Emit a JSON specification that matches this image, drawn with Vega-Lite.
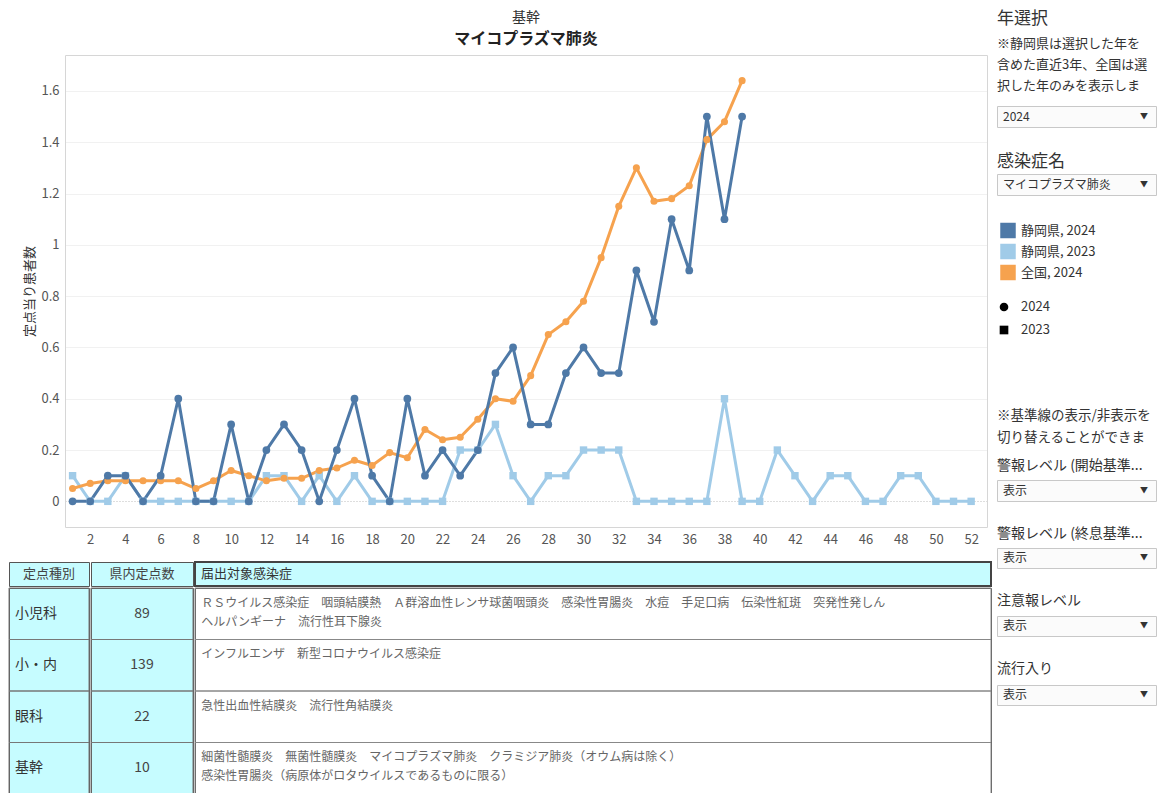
{
  "$schema": "https://vega.github.io/schema/vega-lite/v6.json",
  "padding": {"left": 8, "top": 5, "right": 0, "bottom": 0},
  "background": "white",
  "config": {
    "font": "Noto Sans CJK JP",
    "view": {"stroke": null},
    "title": {"fontWeight": "normal", "color": "#333", "subtitleColor": "#333"},
    "text": {"font": "Noto Sans CJK JP"},
    "axisX": {"labelOverlap": false}
  },
  "datasets": {
    "series": [
      {"week": 1, "series": "静岡県, 2023", "year": "2023", "value": 0.1},
      {"week": 2, "series": "静岡県, 2023", "year": "2023", "value": 0},
      {"week": 3, "series": "静岡県, 2023", "year": "2023", "value": 0},
      {"week": 4, "series": "静岡県, 2023", "year": "2023", "value": 0.1},
      {"week": 5, "series": "静岡県, 2023", "year": "2023", "value": 0},
      {"week": 6, "series": "静岡県, 2023", "year": "2023", "value": 0},
      {"week": 7, "series": "静岡県, 2023", "year": "2023", "value": 0},
      {"week": 8, "series": "静岡県, 2023", "year": "2023", "value": 0},
      {"week": 9, "series": "静岡県, 2023", "year": "2023", "value": 0},
      {"week": 10, "series": "静岡県, 2023", "year": "2023", "value": 0},
      {"week": 11, "series": "静岡県, 2023", "year": "2023", "value": 0},
      {"week": 12, "series": "静岡県, 2023", "year": "2023", "value": 0.1},
      {"week": 13, "series": "静岡県, 2023", "year": "2023", "value": 0.1},
      {"week": 14, "series": "静岡県, 2023", "year": "2023", "value": 0},
      {"week": 15, "series": "静岡県, 2023", "year": "2023", "value": 0.1},
      {"week": 16, "series": "静岡県, 2023", "year": "2023", "value": 0},
      {"week": 17, "series": "静岡県, 2023", "year": "2023", "value": 0.1},
      {"week": 18, "series": "静岡県, 2023", "year": "2023", "value": 0},
      {"week": 19, "series": "静岡県, 2023", "year": "2023", "value": 0},
      {"week": 20, "series": "静岡県, 2023", "year": "2023", "value": 0},
      {"week": 21, "series": "静岡県, 2023", "year": "2023", "value": 0},
      {"week": 22, "series": "静岡県, 2023", "year": "2023", "value": 0},
      {"week": 23, "series": "静岡県, 2023", "year": "2023", "value": 0.2},
      {"week": 24, "series": "静岡県, 2023", "year": "2023", "value": 0.2},
      {"week": 25, "series": "静岡県, 2023", "year": "2023", "value": 0.3},
      {"week": 26, "series": "静岡県, 2023", "year": "2023", "value": 0.1},
      {"week": 27, "series": "静岡県, 2023", "year": "2023", "value": 0},
      {"week": 28, "series": "静岡県, 2023", "year": "2023", "value": 0.1},
      {"week": 29, "series": "静岡県, 2023", "year": "2023", "value": 0.1},
      {"week": 30, "series": "静岡県, 2023", "year": "2023", "value": 0.2},
      {"week": 31, "series": "静岡県, 2023", "year": "2023", "value": 0.2},
      {"week": 32, "series": "静岡県, 2023", "year": "2023", "value": 0.2},
      {"week": 33, "series": "静岡県, 2023", "year": "2023", "value": 0},
      {"week": 34, "series": "静岡県, 2023", "year": "2023", "value": 0},
      {"week": 35, "series": "静岡県, 2023", "year": "2023", "value": 0},
      {"week": 36, "series": "静岡県, 2023", "year": "2023", "value": 0},
      {"week": 37, "series": "静岡県, 2023", "year": "2023", "value": 0},
      {"week": 38, "series": "静岡県, 2023", "year": "2023", "value": 0.4},
      {"week": 39, "series": "静岡県, 2023", "year": "2023", "value": 0},
      {"week": 40, "series": "静岡県, 2023", "year": "2023", "value": 0},
      {"week": 41, "series": "静岡県, 2023", "year": "2023", "value": 0.2},
      {"week": 42, "series": "静岡県, 2023", "year": "2023", "value": 0.1},
      {"week": 43, "series": "静岡県, 2023", "year": "2023", "value": 0},
      {"week": 44, "series": "静岡県, 2023", "year": "2023", "value": 0.1},
      {"week": 45, "series": "静岡県, 2023", "year": "2023", "value": 0.1},
      {"week": 46, "series": "静岡県, 2023", "year": "2023", "value": 0},
      {"week": 47, "series": "静岡県, 2023", "year": "2023", "value": 0},
      {"week": 48, "series": "静岡県, 2023", "year": "2023", "value": 0.1},
      {"week": 49, "series": "静岡県, 2023", "year": "2023", "value": 0.1},
      {"week": 50, "series": "静岡県, 2023", "year": "2023", "value": 0},
      {"week": 51, "series": "静岡県, 2023", "year": "2023", "value": 0},
      {"week": 52, "series": "静岡県, 2023", "year": "2023", "value": 0},
      {"week": 1, "series": "全国, 2024", "year": "2024", "value": 0.05},
      {"week": 2, "series": "全国, 2024", "year": "2024", "value": 0.07},
      {"week": 3, "series": "全国, 2024", "year": "2024", "value": 0.08},
      {"week": 4, "series": "全国, 2024", "year": "2024", "value": 0.08},
      {"week": 5, "series": "全国, 2024", "year": "2024", "value": 0.08},
      {"week": 6, "series": "全国, 2024", "year": "2024", "value": 0.08},
      {"week": 7, "series": "全国, 2024", "year": "2024", "value": 0.08},
      {"week": 8, "series": "全国, 2024", "year": "2024", "value": 0.05},
      {"week": 9, "series": "全国, 2024", "year": "2024", "value": 0.08},
      {"week": 10, "series": "全国, 2024", "year": "2024", "value": 0.12},
      {"week": 11, "series": "全国, 2024", "year": "2024", "value": 0.1},
      {"week": 12, "series": "全国, 2024", "year": "2024", "value": 0.08},
      {"week": 13, "series": "全国, 2024", "year": "2024", "value": 0.09},
      {"week": 14, "series": "全国, 2024", "year": "2024", "value": 0.09},
      {"week": 15, "series": "全国, 2024", "year": "2024", "value": 0.12},
      {"week": 16, "series": "全国, 2024", "year": "2024", "value": 0.13},
      {"week": 17, "series": "全国, 2024", "year": "2024", "value": 0.16},
      {"week": 18, "series": "全国, 2024", "year": "2024", "value": 0.14},
      {"week": 19, "series": "全国, 2024", "year": "2024", "value": 0.19},
      {"week": 20, "series": "全国, 2024", "year": "2024", "value": 0.17},
      {"week": 21, "series": "全国, 2024", "year": "2024", "value": 0.28},
      {"week": 22, "series": "全国, 2024", "year": "2024", "value": 0.24},
      {"week": 23, "series": "全国, 2024", "year": "2024", "value": 0.25},
      {"week": 24, "series": "全国, 2024", "year": "2024", "value": 0.32},
      {"week": 25, "series": "全国, 2024", "year": "2024", "value": 0.4},
      {"week": 26, "series": "全国, 2024", "year": "2024", "value": 0.39},
      {"week": 27, "series": "全国, 2024", "year": "2024", "value": 0.49},
      {"week": 28, "series": "全国, 2024", "year": "2024", "value": 0.65},
      {"week": 29, "series": "全国, 2024", "year": "2024", "value": 0.7},
      {"week": 30, "series": "全国, 2024", "year": "2024", "value": 0.78},
      {"week": 31, "series": "全国, 2024", "year": "2024", "value": 0.95},
      {"week": 32, "series": "全国, 2024", "year": "2024", "value": 1.15},
      {"week": 33, "series": "全国, 2024", "year": "2024", "value": 1.3},
      {"week": 34, "series": "全国, 2024", "year": "2024", "value": 1.17},
      {"week": 35, "series": "全国, 2024", "year": "2024", "value": 1.18},
      {"week": 36, "series": "全国, 2024", "year": "2024", "value": 1.23},
      {"week": 37, "series": "全国, 2024", "year": "2024", "value": 1.41},
      {"week": 38, "series": "全国, 2024", "year": "2024", "value": 1.48},
      {"week": 39, "series": "全国, 2024", "year": "2024", "value": 1.64},
      {"week": 1, "series": "静岡県, 2024", "year": "2024", "value": 0},
      {"week": 2, "series": "静岡県, 2024", "year": "2024", "value": 0},
      {"week": 3, "series": "静岡県, 2024", "year": "2024", "value": 0.1},
      {"week": 4, "series": "静岡県, 2024", "year": "2024", "value": 0.1},
      {"week": 5, "series": "静岡県, 2024", "year": "2024", "value": 0},
      {"week": 6, "series": "静岡県, 2024", "year": "2024", "value": 0.1},
      {"week": 7, "series": "静岡県, 2024", "year": "2024", "value": 0.4},
      {"week": 8, "series": "静岡県, 2024", "year": "2024", "value": 0},
      {"week": 9, "series": "静岡県, 2024", "year": "2024", "value": 0},
      {"week": 10, "series": "静岡県, 2024", "year": "2024", "value": 0.3},
      {"week": 11, "series": "静岡県, 2024", "year": "2024", "value": 0},
      {"week": 12, "series": "静岡県, 2024", "year": "2024", "value": 0.2},
      {"week": 13, "series": "静岡県, 2024", "year": "2024", "value": 0.3},
      {"week": 14, "series": "静岡県, 2024", "year": "2024", "value": 0.2},
      {"week": 15, "series": "静岡県, 2024", "year": "2024", "value": 0},
      {"week": 16, "series": "静岡県, 2024", "year": "2024", "value": 0.2},
      {"week": 17, "series": "静岡県, 2024", "year": "2024", "value": 0.4},
      {"week": 18, "series": "静岡県, 2024", "year": "2024", "value": 0.1},
      {"week": 19, "series": "静岡県, 2024", "year": "2024", "value": 0},
      {"week": 20, "series": "静岡県, 2024", "year": "2024", "value": 0.4},
      {"week": 21, "series": "静岡県, 2024", "year": "2024", "value": 0.1},
      {"week": 22, "series": "静岡県, 2024", "year": "2024", "value": 0.2},
      {"week": 23, "series": "静岡県, 2024", "year": "2024", "value": 0.1},
      {"week": 24, "series": "静岡県, 2024", "year": "2024", "value": 0.2},
      {"week": 25, "series": "静岡県, 2024", "year": "2024", "value": 0.5},
      {"week": 26, "series": "静岡県, 2024", "year": "2024", "value": 0.6},
      {"week": 27, "series": "静岡県, 2024", "year": "2024", "value": 0.3},
      {"week": 28, "series": "静岡県, 2024", "year": "2024", "value": 0.3},
      {"week": 29, "series": "静岡県, 2024", "year": "2024", "value": 0.5},
      {"week": 30, "series": "静岡県, 2024", "year": "2024", "value": 0.6},
      {"week": 31, "series": "静岡県, 2024", "year": "2024", "value": 0.5},
      {"week": 32, "series": "静岡県, 2024", "year": "2024", "value": 0.5},
      {"week": 33, "series": "静岡県, 2024", "year": "2024", "value": 0.9},
      {"week": 34, "series": "静岡県, 2024", "year": "2024", "value": 0.7},
      {"week": 35, "series": "静岡県, 2024", "year": "2024", "value": 1.1},
      {"week": 36, "series": "静岡県, 2024", "year": "2024", "value": 0.9},
      {"week": 37, "series": "静岡県, 2024", "year": "2024", "value": 1.5},
      {"week": 38, "series": "静岡県, 2024", "year": "2024", "value": 1.1},
      {"week": 39, "series": "静岡県, 2024", "year": "2024", "value": 1.5}
    ],
    "table": [
      {"row": "小児科", "count": "89", "diseases": "ＲＳウイルス感染症　咽頭結膜熱　Ａ群溶血性レンサ球菌咽頭炎　感染性胃腸炎　水痘　手足口病　伝染性紅斑　突発性発しん\nヘルパンギーナ　流行性耳下腺炎"},
      {"row": "小・内", "count": "139", "diseases": "インフルエンザ　新型コロナウイルス感染症"},
      {"row": "眼科", "count": "22", "diseases": "急性出血性結膜炎　流行性角結膜炎"},
      {"row": "基幹", "count": "10", "diseases": "細菌性髄膜炎　無菌性髄膜炎　マイコプラズマ肺炎　クラミジア肺炎（オウム病は除く）\n感染性胃腸炎（病原体がロタウイルスであるものに限る）"}
    ]
  },
  "spacing": 4,
  "hconcat": [
    {
      "spacing": 15,
      "vconcat": [
        {
          "width": 978,
          "height": 522,
          "title": {"text": "基幹", "subtitle": "マイコプラズマ肺炎", "fontSize": 14, "fontWeight": "normal", "color": "#333", "subtitleFontSize": 16, "subtitleFontWeight": "bold", "subtitleColor": "#222", "subtitlePadding": 6, "offset": -42, "dx": 28, "anchor": "middle"},
          "data": {"name": "series"},
          "resolve": {"axis": {"x": "independent", "y": "independent"}},
          "layer": [
            {
              "mark": {"type": "line", "strokeJoin": "round"},
              "encoding": {
                "x": {"field": "week", "type": "quantitative", "scale": {"domain": [0.57, 52.9], "range": [56, 978], "nice": false, "zero": false},
                  "axis": {"orient": "bottom", "values": [2,4,6,8,10,12,14,16,18,20,22,24,26,28,30,32,34,36,38,40,42,44,46,48,50,52], "labelOverlap": false, "labelFontSize": 13, "labelColor": "#555", "ticks": false, "domain": true, "domainColor": "#d6d6d6", "grid": false, "title": null, "labelPadding": 6}},
                "y": {"field": "value", "type": "quantitative", "scale": {"domain": [-0.1, 1.74], "range": [522, 50], "nice": false, "zero": false},
                  "axis": {"orient": "left", "offset": -56, "values": [0,0.2,0.4,0.6,0.8,1,1.2,1.4,1.6], "format": "~g", "labelOverlap": false, "labelFontSize": 13, "labelColor": "#555", "ticks": false, "domain": true, "domainColor": "#d6d6d6", "grid": true,
                    "gridColor": {"condition": {"test": "datum.value === 0", "value": "#bdbdbd"}, "value": "#f1f1f1"},
                    "gridDash": {"condition": {"test": "datum.value === 0", "value": [1, 2]}, "value": []},
                    "title": "定点当り患者数", "titleFontSize": 13, "titleFontWeight": "normal", "titleColor": "#333", "minExtent": 26, "maxExtent": 26, "titlePadding": 3, "labelPadding": 6}},
                "color": {"field": "series", "type": "nominal", "scale": {"domain": ["静岡県, 2024", "静岡県, 2023", "全国, 2024"], "range": ["#4e79a7", "#a0cbe8", "#f6a24e"]}, "legend": null},
                "strokeWidth": {"field": "series", "type": "nominal", "scale": {"domain": ["静岡県, 2024", "静岡県, 2023", "全国, 2024"], "range": [3, 3, 2.5]}, "legend": null}
              }
            },
            {
              "mark": {"type": "point", "filled": true, "opacity": 1},
              "encoding": {
                "x": {"field": "week", "type": "quantitative", "scale": {"domain": [0.57, 52.9], "range": [56, 978], "nice": false, "zero": false},
                  "axis": {"orient": "top", "offset": -50, "labels": false, "ticks": false, "grid": false, "domain": true, "domainColor": "#d6d6d6", "title": null, "minExtent": 0, "maxExtent": 0}},
                "y": {"field": "value", "type": "quantitative", "scale": {"domain": [-0.1, 1.74], "range": [522, 50], "nice": false, "zero": false},
                  "axis": {"orient": "right", "labels": false, "ticks": false, "grid": false, "domain": true, "domainColor": "#d6d6d6", "title": null, "minExtent": 0, "maxExtent": 0}},
                "color": {"field": "series", "type": "nominal", "legend": null},
                "shape": {"field": "year", "type": "nominal", "scale": {"domain": ["2024", "2023"], "range": ["circle", "square"]}, "legend": null},
                "size": {"field": "series", "type": "nominal", "scale": {"domain": ["静岡県, 2024", "静岡県, 2023", "全国, 2024"], "range": [60, 50, 32]}, "legend": null}
              }
            }
          ]
        },
        {
          "spacing": 0,
          "hconcat": [
            {
              "spacing": 0,
              "vconcat": [
                {
                  "width": 80, "height": 24,
                  "view": {"fill": "#c6fcff", "stroke": "#555"},
                  "data": {"values": [{"h": "定点種別"}]},
                  "mark": {"type": "text", "fontSize": 13, "color": "#444"},
                  "encoding": {"text": {"field": "h"}}
                },
                {
                  "width": 80, "height": 206,
                  "view": {"fill": "#c6fcff", "stroke": "#555"},
                  "data": {"name": "table"},
                  "encoding": {"y": {"field": "row", "type": "nominal", "sort": null, "scale": {"paddingInner": 0, "paddingOuter": 0}, "axis": null}},
                  "layer": [
                    {"mark": {"type": "rect", "fillOpacity": 0, "stroke": "#777", "strokeWidth": 1}},
                    {"mark": {"type": "text", "align": "left", "fontSize": 14, "color": "#333"},
                     "encoding": {"x": {"datum": 0.075, "type": "quantitative", "scale": {"domain": [0, 1]}, "axis": null}, "text": {"field": "row"}}}
                  ]
                }
              ]
            },
            {
              "spacing": 0,
              "vconcat": [
                {
                  "width": 102, "height": 24,
                  "view": {"fill": "#c6fcff", "stroke": "#555"},
                  "data": {"values": [{"h": "県内定点数"}]},
                  "mark": {"type": "text", "fontSize": 13, "color": "#444"},
                  "encoding": {"text": {"field": "h"}}
                },
                {
                  "width": 102, "height": 206,
                  "view": {"fill": "#c6fcff", "stroke": "#555"},
                  "data": {"name": "table"},
                  "encoding": {"y": {"field": "row", "type": "nominal", "sort": null, "scale": {"paddingInner": 0, "paddingOuter": 0}, "axis": null}},
                  "layer": [
                    {"mark": {"type": "rect", "fillOpacity": 0, "stroke": "#777", "strokeWidth": 1}},
                    {"mark": {"type": "text", "fontSize": 14, "color": "#444"},
                     "encoding": {"text": {"field": "count"}}}
                  ]
                }
              ]
            },
            {
              "spacing": 0,
              "vconcat": [
                {
                  "width": 796, "height": 24,
                  "view": {"fill": "#c6fcff", "stroke": "#444", "strokeWidth": 2},
                  "data": {"values": [{"h": "届出対象感染症"}]},
                  "mark": {"type": "text", "fontSize": 13, "color": "#333", "align": "left"},
                  "encoding": {"x": {"datum": 0.0075, "type": "quantitative", "scale": {"domain": [0, 1]}, "axis": null}, "text": {"field": "h"}}
                },
                {
                  "width": 796, "height": 206,
                  "view": {"fill": "white", "stroke": "#555"},
                  "data": {"name": "table"},
                  "encoding": {"y": {"field": "row", "type": "nominal", "sort": null, "scale": {"paddingInner": 0, "paddingOuter": 0}, "axis": null}},
                  "layer": [
                    {"mark": {"type": "rect", "fillOpacity": 0, "stroke": "#888", "strokeWidth": 1}},
                    {"mark": {"type": "text", "align": "left", "baseline": "top", "fontSize": 12, "color": "#666", "lineBreak": "\n", "lineHeight": 19},
                     "encoding": {"x": {"datum": 0.008, "type": "quantitative", "scale": {"domain": [0, 1]}, "axis": null},
                       "y": {"field": "row", "type": "nominal", "sort": null, "bandPosition": 0.19},
                       "text": {"field": "diseases"}}}
                  ]
                }
              ]
            }
          ]
        }
      ]
    },
    {
      "spacing": 10,
      "vconcat": [
        {
          "width": 159, "height": 90,
          "title": {"text": "年選択", "fontSize": 17, "anchor": "start", "offset": -89, "subtitle": ["※静岡県は選択した年を", "含めた直近3年、全国は選", "択した年のみを表示しま"], "subtitleFontSize": 13, "subtitleLineHeight": 21, "subtitlePadding": 10},
          "data": {"values": []},
          "mark": {"type": "text"},
          "encoding": {}
        },
        {
          "spacing": 24,
          "vconcat": [
            {
              "width": 159, "height": 21,
              "view": {"fill": "#fbfbfb", "stroke": "#c8c8c8"},
              "layer": [
                {"data": {"values": [{"label": "2024"}]},
                 "mark": {"type": "text", "align": "left", "fontSize": 12, "color": "#333"},
                 "encoding": {"x": {"datum": "value", "type": "nominal", "scale": {"type": "point", "domain": ["value", "arrow"], "range": [6, 143], "padding": 0}, "axis": null}, "text": {"field": "label"}}},
                {"data": {"values": [{"label": "▼"}]},
                 "mark": {"type": "text", "align": "left", "fontSize": 8, "color": "#333"},
                 "encoding": {"x": {"datum": "arrow", "type": "nominal"}, "text": {"field": "label"}}}
              ]
            },
            {
              "width": 159, "height": 21,
              "view": {"fill": "#fbfbfb", "stroke": "#c8c8c8"},
              "title": {"text": "感染症名", "fontSize": 17, "anchor": "start", "offset": 3},
              "layer": [
                {"data": {"values": [{"label": "マイコプラズマ肺炎"}]},
                 "mark": {"type": "text", "align": "left", "fontSize": 12, "color": "#333"},
                 "encoding": {"x": {"datum": "value", "type": "nominal", "scale": {"type": "point", "domain": ["value", "arrow"], "range": [6, 143], "padding": 0}, "axis": null}, "text": {"field": "label"}}},
                {"data": {"values": [{"label": "▼"}]},
                 "mark": {"type": "text", "align": "left", "fontSize": 8, "color": "#333"},
                 "encoding": {"x": {"datum": "arrow", "type": "nominal"}, "text": {"field": "label"}}}
              ]
            },
            {
              "spacing": 11,
              "vconcat": [
                {
                  "width": 159, "height": 63,
                  "data": {"values": [{"label": "静岡県, 2024"}, {"label": "静岡県, 2023"}, {"label": "全国, 2024"}]},
                  "encoding": {"y": {"field": "label", "type": "nominal", "sort": null, "scale": {"type": "band", "paddingInner": 0, "paddingOuter": 0}, "axis": null}},
                  "layer": [
                    {"mark": {"type": "point", "shape": "square", "filled": true, "size": 240, "opacity": 1},
                     "encoding": {"x": {"datum": "swatch", "type": "nominal", "scale": {"type": "point", "domain": ["swatch", "text"], "range": [11, 24], "padding": 0}, "axis": null},
                       "color": {"field": "label", "type": "nominal", "legend": null}}},
                    {"mark": {"type": "text", "align": "left", "fontSize": 13, "color": "#333"},
                     "encoding": {"x": {"datum": "text", "type": "nominal"}, "text": {"field": "label"}}}
                  ]
                },
                {
                  "width": 159, "height": 90,
                  "data": {"values": [{"year": "2024"}, {"year": "2023"}]},
                  "encoding": {"y": {"field": "year", "type": "nominal", "sort": null, "scale": {"type": "point", "range": [13, 36], "padding": 0}, "axis": null}},
                  "layer": [
                    {"mark": {"type": "point", "filled": true, "size": 75, "color": "#000", "opacity": 1},
                     "encoding": {"x": {"datum": "swatch", "type": "nominal", "scale": {"type": "point", "domain": ["swatch", "text"], "range": [7, 24], "padding": 0}, "axis": null},
                       "shape": {"field": "year", "type": "nominal", "legend": null}}},
                    {"mark": {"type": "text", "align": "left", "fontSize": 13, "color": "#333"},
                     "encoding": {"x": {"datum": "text", "type": "nominal"}, "text": {"field": "year"}}}
                  ]
                }
              ]
            },
            {
              "width": 159, "height": 21,
              "view": {"fill": "#fbfbfb", "stroke": "#c8c8c8"},
              "title": {"text": ["※基準線の表示/非表示を", "切り替えることができま"], "fontSize": 13.5, "lineHeight": 22, "anchor": "start", "offset": 7, "subtitle": "警報レベル (開始基準...", "subtitleFontSize": 14, "subtitlePadding": 15},
              "layer": [
                {"data": {"values": [{"label": "表示"}]},
                 "mark": {"type": "text", "align": "left", "fontSize": 12, "color": "#333"},
                 "encoding": {"x": {"datum": "value", "type": "nominal", "scale": {"type": "point", "domain": ["value", "arrow"], "range": [6, 143], "padding": 0}, "axis": null}, "text": {"field": "label"}}},
                {"data": {"values": [{"label": "▼"}]},
                 "mark": {"type": "text", "align": "left", "fontSize": 8, "color": "#333"},
                 "encoding": {"x": {"datum": "arrow", "type": "nominal"}, "text": {"field": "label"}}}
              ]
            },
            {
              "width": 159, "height": 20,
              "view": {"fill": "#fbfbfb", "stroke": "#c8c8c8"},
              "title": {"text": "警報レベル (終息基準...", "fontSize": 14, "anchor": "start", "offset": 7},
              "layer": [
                {"data": {"values": [{"label": "表示"}]},
                 "mark": {"type": "text", "align": "left", "fontSize": 12, "color": "#333"},
                 "encoding": {"x": {"datum": "value", "type": "nominal", "scale": {"type": "point", "domain": ["value", "arrow"], "range": [6, 143], "padding": 0}, "axis": null}, "text": {"field": "label"}}},
                {"data": {"values": [{"label": "▼"}]},
                 "mark": {"type": "text", "align": "left", "fontSize": 8, "color": "#333"},
                 "encoding": {"x": {"datum": "arrow", "type": "nominal"}, "text": {"field": "label"}}}
              ]
            },
            {
              "width": 159, "height": 20,
              "view": {"fill": "#fbfbfb", "stroke": "#c8c8c8"},
              "title": {"text": "注意報レベル", "fontSize": 14, "anchor": "start", "offset": 8},
              "layer": [
                {"data": {"values": [{"label": "表示"}]},
                 "mark": {"type": "text", "align": "left", "fontSize": 12, "color": "#333"},
                 "encoding": {"x": {"datum": "value", "type": "nominal", "scale": {"type": "point", "domain": ["value", "arrow"], "range": [6, 143], "padding": 0}, "axis": null}, "text": {"field": "label"}}},
                {"data": {"values": [{"label": "▼"}]},
                 "mark": {"type": "text", "align": "left", "fontSize": 8, "color": "#333"},
                 "encoding": {"x": {"datum": "arrow", "type": "nominal"}, "text": {"field": "label"}}}
              ]
            },
            {
              "width": 159, "height": 20,
              "view": {"fill": "#fbfbfb", "stroke": "#c8c8c8"},
              "title": {"text": "流行入り", "fontSize": 14, "anchor": "start", "offset": 9},
              "layer": [
                {"data": {"values": [{"label": "表示"}]},
                 "mark": {"type": "text", "align": "left", "fontSize": 12, "color": "#333"},
                 "encoding": {"x": {"datum": "value", "type": "nominal", "scale": {"type": "point", "domain": ["value", "arrow"], "range": [6, 143], "padding": 0}, "axis": null}, "text": {"field": "label"}}},
                {"data": {"values": [{"label": "▼"}]},
                 "mark": {"type": "text", "align": "left", "fontSize": 8, "color": "#333"},
                 "encoding": {"x": {"datum": "arrow", "type": "nominal"}, "text": {"field": "label"}}}
              ]
            }
          ]
        }
      ]
    }
  ]
}
